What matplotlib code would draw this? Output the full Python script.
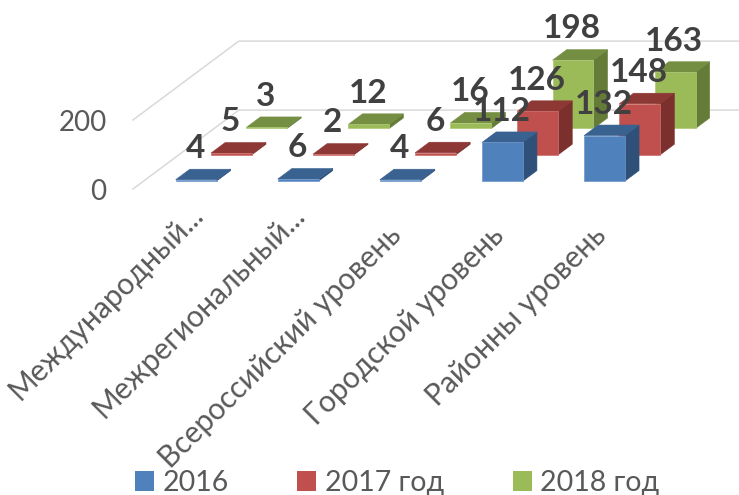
import matplotlib
matplotlib.use("Agg")
import matplotlib.pyplot as plt
from matplotlib.patches import Polygon, Patch

plt.rcParams['font.family'] = ['Lato', 'Noto Sans', 'DejaVu Sans']

categories = ["Международный...", "Межрегиональный...", "Всероссийский уровень",
              "Городской уровень", "Районны уровень"]
series_names = ["2016", "2017 год", "2018 год"]
values_2016 = [4, 6, 4, 112, 132]
values_2017 = [5, 2, 6, 126, 148]
values_2018 = [3, 12, 16, 198, 163]
y_ticks = [0, 200]

series = [values_2016, values_2017, values_2018]
front_colors = ["#4F81BD", "#C0504D", "#9BBB59"]
top_colors = ["#3A6291", "#8E3836", "#748E42"]
side_colors = ["#2F5079", "#7C302E", "#657C39"]
edge_colors = ["#6F97CB", "#CF6F6C", "#ACC873"]
TEXT = "#595959"
LABEL = "#404040"
GRID = "#D9D9D9"

# Oblique projection: one unit of depth shifts along both axes
DX = 35.3 / 102.1
DY = 26.3 / 0.345
BAR_W = 0.4
D0, D1 = 0.3, 0.7


def proj(x, v, d):
    return (x + d * DX, v + d * DY)


fig = plt.figure(figsize=(7.39, 4.95), dpi=100)
ax = fig.add_axes([0, 0, 1, 1])
ax.set_xlim(-1.317, 5.921)
ax.set_ylim(-887, 547.8)
ax.axis("off")

n_depth = len(series)
for t in y_ticks:
    x_s = -0.015
    pts = [proj(x_s, t, 0), proj(x_s, t, n_depth), (ax.get_xlim()[1], proj(x_s, t, n_depth)[1])]
    ax.plot(*zip(*pts), color=GRID, lw=1.1, zorder=1, solid_joinstyle="miter")
    ax.annotate(str(t), xy=proj(x_s, t, 0), xytext=(-19, -2.5), textcoords="offset points",
                ha="right", va="center", fontsize=20, color=TEXT)

z = 2
for s in range(len(series) - 1, -1, -1):
    d0, d1 = s + D0, s + D1
    for i, v in enumerate(series[s]):
        l, r = i + 0.5 - BAR_W / 2, i + 0.5 + BAR_W / 2
        back_side = [proj(r, 0, d0), proj(r, 0, d1), proj(r, v, d1), proj(r, v, d0)]
        top = [proj(l, v, d0), proj(r, v, d0), proj(r, v, d1), proj(l, v, d1)]
        front = [proj(l, 0, d0), proj(r, 0, d0), proj(r, v, d0), proj(l, v, d0)]
        ax.add_patch(Polygon(back_side, closed=True, fc=side_colors[s], ec=side_colors[s], lw=0.4, zorder=z))
        ax.add_patch(Polygon(top, closed=True, fc=top_colors[s], ec=top_colors[s], lw=0.4, zorder=z))
        ax.add_patch(Polygon(front, closed=True, fc=front_colors[s], ec=edge_colors[s], lw=0.5, zorder=z))

for s, vals in enumerate(series):
    for i, v in enumerate(vals):
        ax.annotate(str(v), xy=proj(i + 0.5, v, s + D0), xytext=(-0.5, 22.5), textcoords="offset points",
                    ha="center", va="center", fontsize=24, fontweight="bold", color=LABEL, zorder=10)

for i, name in enumerate(categories):
    shift = (2, 16) if name.endswith("...") else (-2, 1)
    ax.annotate(name, xy=proj(i + 0.5, 0, 0), xytext=(shift[0], -24 + shift[1]),
                textcoords="offset points",
                rotation=45, rotation_mode="anchor", ha="right", va="top",
                fontsize=21.5, color=TEXT)

handles = [Patch(facecolor=c, edgecolor="none") for c in front_colors]
fig.legend(handles, series_names, ncol=3, loc="lower left", bbox_to_anchor=(135 / 739, -0.002),
           frameon=False, fontsize=20.5, labelcolor=TEXT, handlelength=0.66, handleheight=0.66,
           handletextpad=0.3, columnspacing=2.42, borderpad=0, borderaxespad=0)

fig.savefig("out.png", dpi=100)
